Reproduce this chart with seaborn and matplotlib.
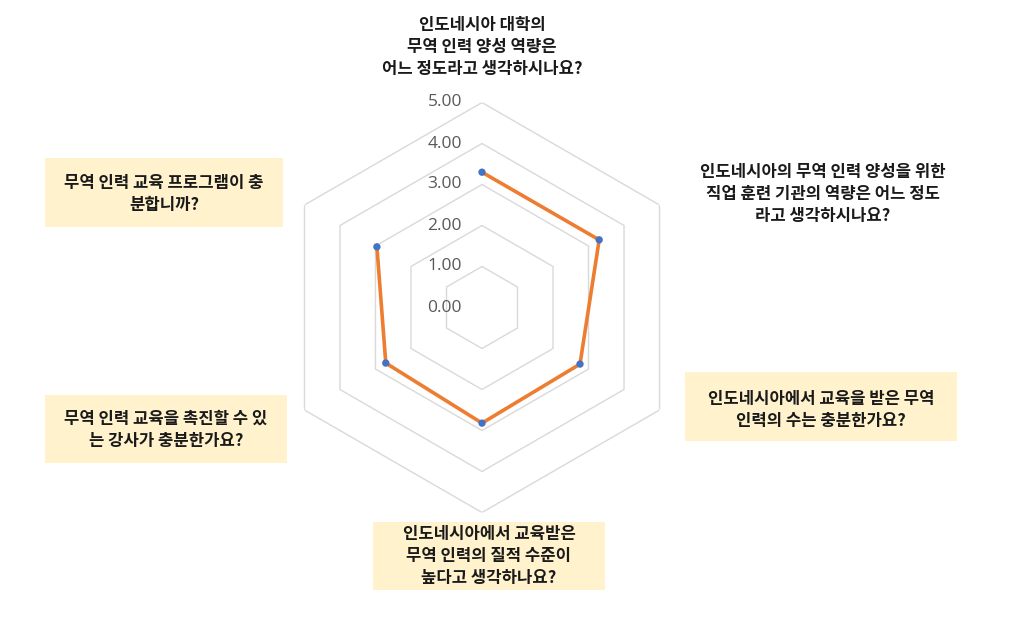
import numpy as np
import pandas as pd
import matplotlib
matplotlib.use("Agg")
import matplotlib.pyplot as plt
from matplotlib.patches import Rectangle
import seaborn as sns

categories = [
    "인도네시아 대학의\n무역 인력 양성 역량은\n어느 정도라고 생각하시나요?",
    "인도네시아의 무역 인력 양성을 위한\n직업 훈련 기관의 역량은 어느 정도\n라고 생각하시나요?",
    "인도네시아에서 교육을 받은 무역\n인력의 수는 충분한가요?",
    "인도네시아에서 교육받은\n무역 인력의 질적 수준이\n높다고 생각하나요?",
    "무역 인력 교육을 촉진할 수 있\n는 강사가 충분한가요?",
    "무역 인력 교육 프로그램이 충\n분합니까?",
]
values = [3.30, 3.30, 2.76, 2.82, 2.71, 2.96]
ring_values = [0, 1, 2, 3, 4, 5]
tick_labels = ["0.00", "1.00", "2.00", "3.00", "4.00", "5.00"]

sns.set_theme(style="white")
plt.rcParams["font.family"] = ["Noto Sans CJK KR", "DejaVu Sans"]

W, H = 1010, 627
fig = plt.figure(figsize=(W / 100, H / 100), dpi=100)

cx, cy, R = 482, 307.5, 205
ax = fig.add_axes([(cx - R) / W, 1 - (cy + R) / H, 2 * R / W, 2 * R / H], projection="polar")
ax.set_theta_offset(np.pi / 2)
ax.set_theta_direction(-1)
ax.set_ylim(0, 5)
ax.grid(False)
ax.spines["polar"].set_visible(False)
ax.set_xticks([])
ax.set_yticks([])
ax.patch.set_alpha(0)

n = len(categories)
angles = np.arange(n) * 2 * np.pi / n
closed = np.append(angles, angles[0])

for rv in ring_values[1:]:
    ax.plot(closed, [rv] * (n + 1), color="#d9d9d9", lw=1, zorder=1)

df = pd.DataFrame({"theta": closed, "r": values + [values[0]]})
sns.lineplot(data=df, x="theta", y="r", ax=ax, sort=False, color="#ED7D31", lw=2.6, zorder=3)
sns.scatterplot(x=angles, y=values, ax=ax, color="#4472C4", s=28, edgecolor="none", zorder=4)
ax.set_xlabel("")
ax.set_ylabel("")
ax.set_ylim(0, 5)

for rv, tl in zip(ring_values, tick_labels):
    ax.annotate(tl, xy=(0, rv), xytext=(-20, 0), textcoords="offset pixels",
                ha="right", va="center", fontsize=12.5, color="#595959",
                family=["Open Sans", "DejaVu Sans"])

# label positions (pixels): center x, center y, box (x0, y0, x1, y1) or None
label_pos = [
    (482, 47, None),
    (823, 194, None),
    (821, 410, (685, 372, 957, 441)),
    (489, 556, (373, 522, 605, 590)),
    (166, 430, (45, 395, 287, 463)),
    (164, 194, (45, 158, 283, 227)),
]
for text, (tx, ty, box) in zip(categories, label_pos):
    if box is not None:
        x0, y0, x1, y1 = box
        fig.patches.append(Rectangle((x0 / W, 1 - y1 / H), (x1 - x0) / W, (y1 - y0) / H,
                                     transform=fig.transFigure, facecolor="#FFF2CC",
                                     edgecolor="none", zorder=0))
    fig.text(tx / W, 1 - ty / H, text, ha="center", va="center", fontsize=12,
             fontweight="bold", color="#1a1a1a", linespacing=1.3)

fig.savefig("out.png", dpi=100, facecolor="white")
